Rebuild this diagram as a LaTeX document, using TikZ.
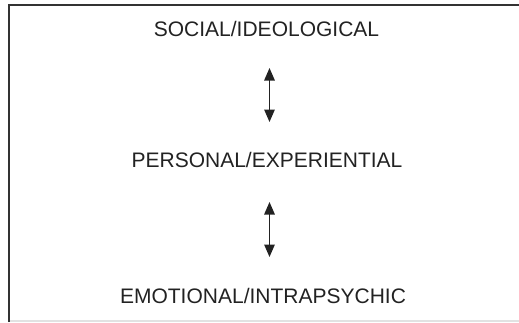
\documentclass[tikz,border=0pt]{standalone}
\usepackage{fontspec}
\setmainfont{Liberation Sans}
\usetikzlibrary{arrows.meta}
\definecolor{ink}{HTML}{222222}
\definecolor{rule}{HTML}{333333}
\definecolor{faint}{HTML}{E2E2E2}
\begin{document}
\begin{tikzpicture}[x=1pt,y=-1pt,
  level/.style={inner sep=0pt,text=ink,font=\fontsize{21}{24}\selectfont},
  link/.style={draw=ink,line width=1.4pt,{Triangle[width=10.5pt,length=12.5pt]}-{Triangle[width=10.5pt,length=12.5pt]}},
  frameline/.style={draw=rule,line width=1.6pt}]
  \useasboundingbox (0,0) rectangle (519,322);
  % frame around the three levels
  \draw[frameline] (9,322) -- (9,5) -- (519,5);
  \draw[faint,line width=1.2pt] (10,321) -- (519,321);
  % levels
  \node[level] (soc) at (266.5,29) {SOCIAL/IDEOLOGICAL};
  \node[level] (per) at (267,160) {PERSONAL/EXPERIENTIAL};
  \node[level] (emo) at (263,296) {EMOTIONAL/INTRAPSYCHIC};
  % two-way links between levels
  \coordinate (l1a) at (269.5,68);
  \coordinate (l1b) at (269.5,122);
  \coordinate (l2a) at (269.5,202);
  \coordinate (l2b) at (269.5,257);
  \draw[link] (l1a) -- (l1b);
  \draw[link] (l2a) -- (l2b);
\end{tikzpicture}
\end{document}
